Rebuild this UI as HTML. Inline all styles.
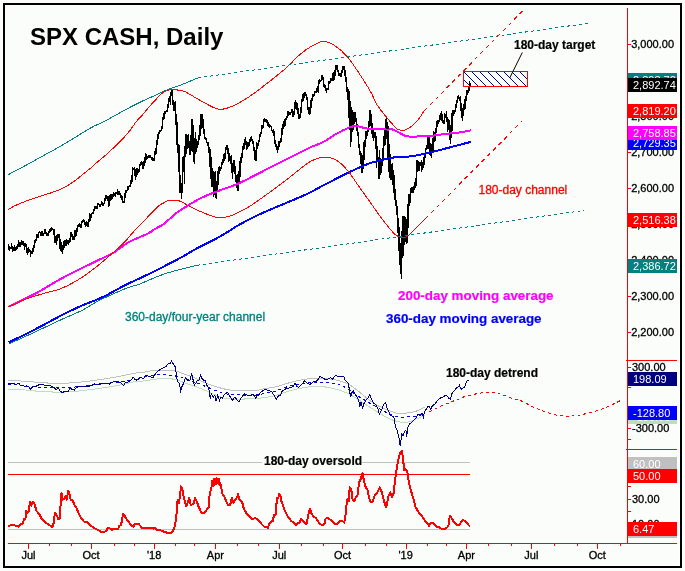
<!DOCTYPE html>
<html><head><meta charset="utf-8"><title>SPX CASH, Daily</title>
<style>
html,body{margin:0;padding:0;background:#fafdf9;}
svg{display:block;}
svg text{font-family:"Liberation Sans", Arial, sans-serif;}
</style></head><body>
<svg width="685" height="571" viewBox="0 0 685 571" font-family='"Liberation Sans", Arial, sans-serif'>
<rect x="0" y="0" width="685" height="571" fill="#fafdf9"/>
<rect x="2.5" y="2.5" width="680" height="566" fill="none" stroke="#ffffff" stroke-width="1"/>
<rect x="5.5" y="5.5" width="674" height="560" fill="none" stroke="#ffffff" stroke-width="1"/>
<rect x="4" y="4" width="677" height="563" fill="none" stroke="#000" stroke-width="2"/>
<path d="M8.5,244.2V250.3M9.5,246.2V251.0M10.5,246.9V248.9M11.5,243.4V249.2M12.5,246.0V252.2M13.5,247.4V250.8M14.5,245.2V251.1M15.5,247.2V251.0M16.5,246.4V250.2M17.5,244.2V249.3M18.5,240.0V246.9M19.5,242.1V246.6M20.5,242.1V246.7M21.5,240.3V244.5M22.5,240.6V244.5M23.5,240.9V245.7M24.5,242.7V250.0M25.5,243.1V247.4M26.5,243.9V252.9M27.5,248.3V255.2M28.5,247.4V253.2M29.5,248.6V252.2M30.5,249.9V257.4M31.5,250.5V253.9M32.5,248.0V254.4M33.5,244.8V252.4M34.5,240.1V248.1M35.5,239.2V243.1M36.5,233.5V241.4M37.5,234.2V237.6M38.5,231.7V237.5M39.5,231.4V233.4M40.5,231.9V235.9M41.5,231.0V235.8M42.5,231.1V236.1M43.5,232.6V236.4M44.5,229.2V233.6M45.5,229.2V234.3M46.5,232.3V235.9M47.5,233.4V236.4M48.5,230.9V236.3M49.5,229.1V232.8M50.5,228.1V231.5M51.5,227.1V231.0M52.5,227.5V230.3M53.5,229.4V234.7M54.5,229.0V242.7M55.5,235.6V242.6M56.5,234.7V244.6M57.5,233.7V240.7M58.5,233.5V237.7M59.5,233.5V248.9M60.5,239.2V250.7M61.5,242.1V251.9M62.5,245.3V253.9M63.5,241.4V249.9M64.5,239.7V248.0M65.5,239.7V246.1M66.5,238.8V245.7M67.5,240.4V243.8M68.5,240.0V244.6M69.5,238.2V242.5M70.5,231.6V241.6M71.5,231.6V237.1M72.5,233.9V239.6M73.5,236.4V240.0M74.5,230.0V240.3M75.5,229.9V237.2M76.5,228.3V235.9M77.5,224.5V231.7M78.5,223.7V227.4M79.5,223.4V227.0M80.5,223.7V227.6M81.5,221.2V227.6M82.5,219.5V223.4M83.5,219.1V221.9M84.5,219.9V224.6M85.5,222.2V226.7M86.5,221.3V226.2M87.5,221.6V227.0M88.5,218.7V227.0M89.5,212.8V221.8M90.5,214.0V220.6M91.5,212.8V218.4M92.5,211.6V214.4M93.5,208.7V213.8M94.5,205.7V210.6M95.5,206.2V208.5M96.5,206.3V209.0M97.5,203.3V208.9M98.5,203.2V205.1M99.5,203.6V206.9M100.5,204.1V207.3M101.5,200.8V205.2M102.5,201.5V206.1M103.5,203.0V206.1M104.5,197.7V203.9M105.5,195.1V200.9M106.5,195.1V199.4M107.5,195.5V201.3M108.5,196.2V206.7M109.5,195.1V205.5M110.5,194.1V201.2M111.5,194.4V200.1M112.5,194.2V199.4M113.5,191.6V196.9M114.5,192.5V196.3M115.5,191.7V197.0M116.5,191.5V194.1M117.5,189.2V195.2M118.5,190.9V194.6M119.5,191.0V194.8M120.5,193.4V198.3M121.5,194.8V199.8M122.5,195.9V203.1M123.5,201.1V203.3M124.5,193.4V203.4M125.5,190.1V197.8M126.5,189.7V192.6M127.5,186.3V191.4M128.5,185.7V190.3M129.5,184.7V187.2M130.5,180.2V187.4M131.5,174.9V183.7M132.5,167.3V181.9M133.5,167.5V170.3M134.5,167.3V175.7M135.5,169.1V179.8M136.5,167.7V177.0M137.5,167.8V174.9M138.5,168.6V173.2M139.5,163.7V171.6M140.5,162.3V166.4M141.5,160.9V165.2M142.5,162.3V168.6M143.5,160.9V168.7M144.5,157.1V166.1M145.5,152.7V162.5M146.5,153.9V159.5M147.5,155.5V158.8M148.5,154.8V158.2M149.5,154.8V158.0M150.5,154.5V158.4M151.5,156.8V160.0M152.5,157.2V160.6M153.5,158.3V160.6M154.5,150.9V160.6M155.5,148.4V155.4M156.5,140.3V153.6M157.5,134.1V145.4M158.5,131.8V138.7M159.5,129.7V133.6M160.5,129.6V132.2M161.5,125.8V131.3M162.5,116.8V129.0M163.5,113.0V119.5M164.5,111.4V118.6M165.5,111.0V114.2M166.5,110.3V111.7M167.5,104.3V112.3M168.5,98.0V107.9M169.5,96.3V101.7M170.5,92.0V104.6M171.5,89.3V95.9M172.5,90.1V105.2M173.5,99.6V110.8M174.5,101.9V111.1M175.5,101.4V125.2M176.5,114.3V144.7M177.5,122.3V152.5M178.5,143.9V171.7M179.5,144.9V192.9M180.5,175.0V193.1M181.5,182.7V198.8M182.5,157.0V192.5M183.5,155.8V171.8M184.5,146.1V184.2M185.5,134.4V156.6M186.5,134.4V154.0M187.5,134.5V149.2M188.5,134.0V147.6M189.5,140.5V155.1M190.5,134.8V155.1M191.5,119.0V150.9M192.5,119.0V151.8M193.5,124.6V162.2M194.5,138.3V164.1M195.5,131.8V154.3M196.5,138.6V151.8M197.5,140.8V147.8M198.5,135.1V144.6M199.5,124.9V139.8M200.5,113.7V136.3M201.5,113.7V128.7M202.5,113.7V128.0M203.5,119.0V134.2M204.5,129.3V139.0M205.5,136.6V139.5M206.5,137.5V143.2M207.5,141.9V146.3M208.5,142.1V153.1M209.5,147.0V167.2M210.5,148.9V179.0M211.5,157.0V186.6M212.5,168.3V187.4M213.5,170.5V196.6M214.5,172.1V195.2M215.5,170.7V197.6M216.5,181.0V198.8M217.5,170.5V190.2M218.5,167.4V184.8M219.5,166.1V173.7M220.5,166.8V170.8M221.5,162.1V168.8M222.5,159.3V165.2M223.5,154.3V162.9M224.5,153.3V160.9M225.5,147.1V159.2M226.5,144.7V150.1M227.5,144.9V153.6M228.5,147.9V162.3M229.5,153.4V161.3M230.5,156.3V164.1M231.5,154.5V173.0M232.5,163.1V178.7M233.5,160.4V172.3M234.5,160.4V173.7M235.5,166.2V181.6M236.5,174.8V187.8M237.5,173.6V191.3M238.5,171.1V191.3M239.5,160.6V182.1M240.5,157.4V177.4M241.5,152.6V163.2M242.5,145.6V158.4M243.5,143.0V150.3M244.5,138.8V149.2M245.5,136.8V145.0M246.5,141.2V149.8M247.5,142.3V149.2M248.5,142.4V146.6M249.5,139.3V145.5M250.5,136.9V141.7M251.5,136.2V141.1M252.5,138.6V144.1M253.5,140.9V150.7M254.5,146.8V159.5M255.5,149.6V160.7M256.5,141.5V160.7M257.5,143.2V148.8M258.5,139.9V145.6M259.5,133.5V141.7M260.5,131.9V137.4M261.5,125.2V133.8M262.5,124.6V129.0M263.5,119.3V128.1M264.5,118.0V122.1M265.5,118.5V122.0M266.5,119.3V122.9M267.5,119.7V126.2M268.5,122.3V126.7M269.5,123.5V127.8M270.5,125.3V127.1M271.5,125.6V131.0M272.5,129.8V132.5M273.5,128.5V136.1M274.5,130.8V143.6M275.5,139.8V147.4M276.5,144.0V149.9M277.5,146.4V152.9M278.5,140.6V150.2M279.5,140.8V147.4M280.5,137.9V143.3M281.5,127.5V142.0M282.5,124.3V134.6M283.5,120.5V128.6M284.5,119.4V127.1M285.5,117.6V126.0M286.5,116.3V120.4M287.5,111.1V118.2M288.5,111.2V115.8M289.5,112.1V115.0M290.5,111.7V115.2M291.5,109.4V113.3M292.5,108.9V117.3M293.5,111.0V117.3M294.5,101.6V115.1M295.5,100.3V109.2M296.5,101.7V110.0M297.5,103.1V113.7M298.5,108.4V118.7M299.5,114.4V118.7M300.5,107.1V118.4M301.5,98.7V112.5M302.5,94.3V102.0M303.5,93.0V100.7M304.5,91.8V97.7M305.5,91.8V96.4M306.5,93.8V100.4M307.5,96.5V110.0M308.5,107.0V113.5M309.5,106.9V114.8M310.5,99.8V114.4M311.5,97.6V108.4M312.5,94.4V101.1M313.5,93.8V96.9M314.5,91.1V96.2M315.5,90.7V93.3M316.5,88.2V92.8M317.5,85.7V92.4M318.5,80.0V92.6M319.5,78.8V84.4M320.5,79.5V82.3M321.5,75.0V81.2M322.5,74.7V80.3M323.5,76.9V86.9M324.5,84.1V88.2M325.5,84.7V91.4M326.5,88.1V92.5M327.5,88.1V90.0M328.5,81.2V89.9M329.5,80.9V83.8M330.5,77.5V82.8M331.5,77.7V80.8M332.5,72.7V80.5M333.5,71.9V80.7M334.5,70.0V79.5M335.5,64.9V75.6M336.5,64.8V70.3M337.5,65.4V72.1M338.5,69.9V76.0M339.5,72.7V76.1M340.5,73.1V76.8M341.5,70.1V76.5M342.5,66.0V72.5M343.5,66.0V69.8M344.5,66.0V76.0M345.5,69.8V82.1M346.5,77.2V91.8M347.5,86.7V100.2M348.5,89.3V118.0M349.5,91.4V130.0M350.5,101.2V147.4M351.5,106.8V142.4M352.5,109.9V131.6M353.5,112.0V129.8M354.5,112.0V124.4M355.5,112.0V121.8M356.5,117.8V130.7M357.5,124.2V135.9M358.5,131.8V147.9M359.5,143.9V155.3M360.5,151.4V163.8M361.5,153.1V172.6M362.5,155.1V172.6M363.5,142.4V168.9M364.5,139.7V159.9M365.5,131.0V146.8M366.5,131.3V139.3M367.5,127.8V136.4M368.5,121.0V131.9M369.5,109.8V126.8M370.5,110.2V126.2M371.5,114.1V133.8M372.5,122.7V138.0M373.5,129.3V140.9M374.5,132.4V138.4M375.5,131.7V149.4M376.5,135.6V168.4M377.5,146.3V161.6M378.5,156.9V179.0M379.5,149.7V179.0M380.5,157.8V174.7M381.5,160.2V172.7M382.5,148.1V166.4M383.5,136.3V159.7M384.5,129.8V146.3M385.5,119.1V144.7M386.5,116.1V139.4M387.5,122.2V158.8M388.5,125.7V172.0M389.5,144.1V177.5M390.5,153.5V179.9M391.5,164.1V180.4M392.5,163.4V185.2M393.5,169.9V193.4M394.5,174.5V200.4M395.5,188.8V206.4M396.5,199.8V215.2M397.5,206.1V232.9M398.5,218.2V250.5M399.5,227.0V265.2M400.5,242.6V273.9M401.5,231.2V279.3M402.5,215.5V258.3M403.5,215.5V255.9M404.5,215.5V244.5M405.5,217.2V241.5M406.5,219.0V244.3M407.5,203.5V242.6M408.5,194.1V227.9M409.5,193.7V205.5M410.5,187.5V203.4M411.5,186.7V193.3M412.5,187.2V192.8M413.5,185.8V192.6M414.5,181.5V190.4M415.5,177.6V187.7M416.5,159.5V186.3M417.5,160.3V171.6M418.5,161.2V170.7M419.5,162.2V171.3M420.5,162.1V166.1M421.5,160.4V172.0M422.5,161.8V170.2M423.5,157.3V168.0M424.5,154.6V164.8M425.5,147.7V157.8M426.5,145.3V150.4M427.5,136.6V149.3M428.5,136.6V148.5M429.5,137.4V154.8M430.5,143.2V156.1M431.5,143.8V158.1M432.5,137.7V151.8M433.5,131.3V150.8M434.5,132.4V142.3M435.5,127.9V141.3M436.5,120.9V133.2M437.5,119.6V127.3M438.5,119.9V124.3M439.5,115.1V122.3M440.5,113.4V119.8M441.5,111.0V121.0M442.5,114.0V123.3M443.5,119.8V123.9M444.5,113.2V123.9M445.5,113.5V117.7M446.5,111.2V121.9M447.5,116.6V131.6M448.5,119.1V130.0M449.5,120.2V139.7M450.5,124.6V143.5M451.5,113.0V137.9M452.5,110.3V131.4M453.5,110.2V116.4M454.5,109.9V113.9M455.5,103.6V111.7M456.5,99.9V107.9M457.5,95.9V102.6M458.5,94.7V99.0M459.5,97.0V100.5M460.5,96.4V110.5M461.5,103.1V118.1M462.5,107.6V121.4M463.5,104.3V116.1M464.5,99.2V110.3M465.5,96.4V109.0M466.5,90.4V100.9M467.5,90.0V95.2M468.5,86.2V92.7M469.5,81.4V91.3M470.5,82.6V85.7" fill="none" stroke="#000" stroke-width="1" shape-rendering="crispEdges"/>
<path d="M8.4,306.9 C12.8,304.7 26.4,298.4 35.0,293.8 C43.6,289.2 52.9,283.2 60.0,279.3 C67.1,275.4 71.7,273.1 77.5,270.2 C83.3,267.3 89.2,264.6 95.0,261.8 C100.8,259.0 108.8,255.2 112.6,253.2 C116.4,251.2 115.1,251.5 117.9,249.6 C120.7,247.7 126.0,243.7 129.5,241.7 C133.0,239.7 135.9,238.8 139.1,237.4 C142.3,236.0 146.0,234.6 148.7,233.1 C151.4,231.6 153.1,230.1 155.5,228.7 C157.9,227.2 161.0,225.9 163.2,224.4 C165.4,222.9 166.9,221.3 168.9,219.6 C170.9,217.9 172.7,215.8 175.0,214.0 C177.3,212.2 179.3,210.8 183.0,208.5 C186.7,206.2 193.4,202.2 197.3,200.0 C201.2,197.8 202.8,197.2 206.7,195.5 C210.6,193.8 215.4,192.1 220.9,190.0 C226.4,187.9 231.6,186.7 239.8,182.9 C248.0,179.2 260.0,172.6 270.0,167.5 C280.0,162.4 293.3,155.8 300.0,152.5 C306.7,149.2 306.1,149.3 310.0,147.5 C313.9,145.7 319.4,144.0 323.6,141.8 C327.8,139.7 330.6,137.0 335.0,134.6 C339.4,132.2 346.0,128.7 349.7,127.3 C353.4,125.9 354.1,125.9 357.0,126.1 C359.9,126.3 361.9,127.9 366.8,128.5 C371.7,129.1 382.0,129.3 386.4,129.5 C390.8,129.7 390.9,129.1 393.0,129.6 C395.1,130.1 396.7,131.4 399.0,132.5 C401.3,133.6 403.3,135.7 406.8,136.3 C410.3,137.0 416.0,136.5 420.0,136.4 C424.0,136.3 427.7,136.3 431.0,136.0 C434.3,135.7 435.2,135.2 440.0,134.6 C444.8,134.0 454.8,133.1 460.0,132.4 C465.2,131.7 469.2,130.7 471.0,130.3" fill="none" stroke="#ff00ff" stroke-width="2" stroke-linejoin="round" shape-rendering="crispEdges"/>
<path d="M8.8,342.4 C13.2,340.2 26.5,333.8 35.0,329.4 C43.5,325.0 53.9,319.3 60.0,316.1 C66.1,312.9 67.8,312.2 71.7,310.3 C75.6,308.4 79.5,306.6 83.4,305.0 C87.3,303.4 91.1,302.0 95.0,300.4 C98.9,298.8 102.8,297.1 106.7,295.1 C110.6,293.2 114.5,290.8 118.4,288.7 C122.3,286.6 126.5,284.6 130.1,282.8 C133.7,281.1 136.0,280.1 140.0,278.2 C144.0,276.3 149.3,273.8 154.0,271.5 C158.7,269.2 163.4,266.7 168.2,264.2 C173.0,261.7 178.3,259.1 183.0,256.5 C187.7,253.9 190.0,252.1 196.2,248.8 C202.4,245.5 212.7,240.6 220.0,236.5 C227.3,232.4 232.8,228.3 240.0,224.3 C247.2,220.3 252.9,217.3 263.5,212.5 C274.1,207.7 293.7,200.0 303.7,195.5 C313.7,191.0 316.3,189.0 323.6,185.3 C330.9,181.6 339.4,176.8 347.3,173.1 C355.2,169.4 363.0,165.5 370.9,162.9 C378.8,160.3 387.9,158.4 394.6,157.3 C401.3,156.2 405.2,157.1 411.1,156.3 C417.0,155.5 421.9,154.4 430.0,152.5 C438.1,150.6 453.2,146.5 460.0,144.7 C466.8,142.9 469.2,142.4 471.0,141.9" fill="none" stroke="#0000ff" stroke-width="2" stroke-linejoin="round" shape-rendering="crispEdges"/>
<path d="M8.3,209.5 C9.7,208.7 12.4,206.7 16.6,204.9 C20.8,203.1 27.7,200.4 33.3,198.5 C38.8,196.6 45.8,194.6 49.9,193.2 C54.0,191.8 55.4,191.4 58.2,190.2 C61.0,189.0 63.8,187.8 66.6,186.2 C69.4,184.6 72.1,182.7 74.9,180.7 C77.7,178.7 80.4,176.3 83.2,174.1 C86.0,171.9 89.5,169.1 91.5,167.4 C93.5,165.7 92.2,166.5 95.0,164.1 C97.8,161.7 103.6,157.0 108.0,153.0 C112.4,149.0 117.9,143.6 121.5,140.0 C125.1,136.4 127.0,134.2 129.4,131.2 C131.8,128.2 133.8,124.7 136.0,122.0 C138.2,119.3 140.4,117.3 142.6,114.8 C144.8,112.3 146.9,109.4 149.1,106.9 C151.3,104.4 153.5,102.0 155.7,99.7 C157.9,97.4 160.1,94.7 162.3,93.1 C164.5,91.5 166.8,90.5 168.8,89.9 C170.8,89.3 172.2,89.4 174.1,89.5 C176.0,89.6 178.1,90.1 180.0,90.5 C181.9,90.9 181.8,90.1 185.5,91.9 C189.2,93.7 196.5,98.5 202.0,101.4 C207.5,104.3 213.5,108.4 218.6,109.2 C223.7,110.0 227.6,108.2 232.7,106.1 C237.8,104.0 243.4,100.5 249.3,96.6 C255.2,92.7 261.9,87.4 268.2,82.5 C274.5,77.6 281.8,71.8 287.1,67.1 C292.4,62.4 295.9,57.9 300.0,54.4 C304.1,50.9 307.9,48.3 311.8,46.1 C315.7,43.9 319.7,41.4 323.6,41.4 C327.6,41.4 331.6,43.5 335.5,46.1 C339.4,48.7 343.4,52.2 347.3,56.7 C351.2,61.2 355.2,67.4 359.1,73.3 C363.0,79.2 368.1,87.2 370.9,92.2 C373.7,97.2 374.6,100.4 376.1,103.2 C377.7,106.0 378.5,107.0 380.2,109.3 C381.9,111.6 384.4,114.7 386.3,117.0 C388.2,119.3 389.8,121.1 391.5,123.1 C393.2,125.0 395.1,127.5 396.6,128.7 C398.1,129.9 399.2,130.1 400.7,130.3 C402.2,130.5 404.1,130.3 405.8,129.7 C407.5,129.1 409.2,128.0 410.9,126.7 C412.6,125.4 414.5,123.7 416.0,122.1 C417.5,120.5 418.7,118.9 420.1,117.0 C421.5,115.1 423.5,111.8 424.2,110.8" fill="none" stroke="#ff0000" stroke-width="1" shape-rendering="crispEdges"/>
<polyline points="424.2,110.8 523.6,10.0" fill="none" stroke="#ff0000" stroke-width="1" stroke-dasharray="4,4" shape-rendering="crispEdges"/>
<path d="M8.4,306.9 C11.4,305.6 20.4,301.2 26.3,299.0 C32.2,296.8 38.2,295.1 43.8,293.4 C49.4,291.7 54.4,291.2 60.0,289.0 C65.6,286.8 71.7,283.7 77.5,280.2 C83.3,276.7 89.2,272.5 95.0,268.0 C100.8,263.5 108.9,256.2 112.6,253.1 C116.2,250.0 114.6,251.6 116.9,249.4 C119.2,247.2 124.0,242.5 126.6,239.8 C129.2,237.1 129.4,236.2 132.3,233.1 C135.2,230.0 139.7,225.3 143.9,221.0 C148.1,216.7 154.2,210.0 157.4,207.0 C160.6,204.0 161.4,204.3 163.2,203.2 C165.0,202.1 166.0,201.0 168.0,200.5 C170.0,200.0 173.0,200.2 175.0,200.3 C177.0,200.4 176.3,199.6 180.0,201.2 C183.7,202.8 191.3,207.4 197.3,210.1 C203.3,212.8 210.7,216.2 216.2,217.2 C221.7,218.2 224.9,217.8 230.4,216.0 C235.9,214.2 243.4,210.0 249.3,206.5 C255.2,203.0 261.9,197.8 265.8,195.0 C269.7,192.2 268.9,193.0 272.9,190.0 C276.9,187.0 285.5,180.5 290.0,177.0 C294.5,173.5 296.4,171.7 300.0,169.0 C303.6,166.3 307.9,162.7 311.8,160.7 C315.7,158.7 319.7,157.4 323.6,157.2 C327.6,157.0 331.6,157.4 335.5,159.6 C339.4,161.8 343.4,165.7 347.3,170.2 C351.2,174.7 355.2,181.2 359.1,186.7 C363.0,192.2 367.0,197.8 370.9,203.3 C374.8,208.8 378.8,214.7 382.7,219.8 C386.6,224.9 391.4,231.0 394.6,234.0 C397.8,237.0 399.4,237.4 401.7,237.6 C404.0,237.8 405.2,238.0 408.7,235.2 C412.2,232.4 420.1,223.8 422.9,221.0 C425.7,218.2 424.9,219.1 425.3,218.7" fill="none" stroke="#ff0000" stroke-width="1" shape-rendering="crispEdges"/>
<polyline points="425.3,218.7 522.3,120.9" fill="none" stroke="#ff0000" stroke-width="1" stroke-dasharray="4,4" shape-rendering="crispEdges"/>
<path d="M8.3,174.6 C11.1,173.1 19.4,168.8 25.0,165.8 C30.6,162.8 36.1,159.7 41.6,156.6 C47.1,153.5 52.7,150.7 58.2,147.5 C63.8,144.3 69.4,140.8 74.9,137.5 C80.5,134.2 86.8,130.1 91.5,127.5 C96.2,124.9 99.0,124.1 103.1,122.0 C107.2,119.9 111.9,117.2 116.3,114.8 C120.7,112.4 125.0,109.9 129.4,107.6 C133.8,105.3 138.2,103.1 142.6,101.0 C147.0,98.9 151.8,96.9 155.7,95.1 C159.6,93.3 162.1,91.8 166.2,90.2 C170.2,88.6 174.6,87.4 180.0,85.3 C185.4,83.2 195.4,79.0 198.5,77.7" fill="none" stroke="#008080" stroke-width="1" shape-rendering="crispEdges"/>
<polyline points="198.5,77.7 589.3,23.1" fill="none" stroke="#008080" stroke-width="1" stroke-dasharray="3,3" shape-rendering="crispEdges"/>
<path d="M8.4,344.2 C12.8,342.2 26.4,336.0 35.0,332.0 C43.6,328.0 53.9,323.0 60.0,320.2 C66.1,317.4 67.8,316.8 71.7,315.0 C75.6,313.2 79.5,311.8 83.4,309.7 C87.3,307.6 91.1,304.8 95.0,302.7 C98.9,300.6 102.8,298.8 106.7,296.9 C110.6,295.0 114.5,293.3 118.4,291.6 C122.3,289.9 126.5,288.2 130.1,286.9 C133.7,285.6 136.7,285.2 140.0,284.0 C143.3,282.8 145.8,281.3 150.0,279.6 C154.2,277.9 160.1,275.4 165.1,273.7 C170.1,272.0 174.6,270.9 180.0,269.5 C185.4,268.1 194.4,265.9 197.3,265.2" fill="none" stroke="#008080" stroke-width="1" shape-rendering="crispEdges"/>
<polyline points="197.3,265.2 584.0,210.4" fill="none" stroke="#008080" stroke-width="1" stroke-dasharray="3,3" shape-rendering="crispEdges"/>
<defs><pattern id="hatch" patternUnits="userSpaceOnUse" width="8" height="8" patternTransform="translate(464,72)"><path d="M-1,-1 L9,9 M-9,-1 L1,9 M7,-1 L17,9" stroke="#000080" stroke-width="1"/></pattern></defs>
<rect x="463.5" y="71.5" width="64" height="15" fill="url(#hatch)" stroke="#ff0000" stroke-width="1" shape-rendering="crispEdges"/>
<line x1="509.7" y1="78" x2="522.3" y2="52.5" stroke="#000" stroke-width="1"/>
<path d="M8.1,380.3 C10.6,380.4 18.1,380.8 22.9,381.1 C27.7,381.4 31.3,381.8 36.7,382.2 C42.1,382.6 49.4,383.3 55.1,383.4 C60.8,383.5 65.7,383.2 70.9,382.9 C76.1,382.6 81.1,382.0 86.4,381.4 C91.7,380.8 97.3,380.0 102.8,379.2 C108.3,378.4 113.8,377.4 119.3,376.4 C124.8,375.4 131.4,373.8 135.7,373.1 C140.0,372.4 142.1,372.4 145.0,372.0 C147.9,371.6 148.4,370.8 153.1,370.6 C157.8,370.4 168.6,370.2 173.3,370.6 C178.0,371.0 178.6,372.2 181.2,373.0 C183.8,373.8 186.7,374.8 189.0,375.6 C191.3,376.5 192.1,376.8 195.0,378.1 C197.9,379.4 202.8,381.8 206.7,383.4 C210.6,384.9 214.1,386.2 218.4,387.4 C222.7,388.6 226.2,389.9 232.4,390.4 C238.6,390.9 250.2,390.7 255.7,390.4 C261.1,390.1 261.9,389.2 265.1,388.6 C268.3,388.1 272.2,387.7 275.0,387.1 C277.8,386.5 278.6,386.0 281.7,385.1 C284.8,384.2 289.5,382.6 293.4,381.6 C297.3,380.6 301.1,379.9 305.0,379.3 C308.9,378.7 312.8,378.2 316.7,378.1 C320.6,378.0 324.5,378.2 328.4,378.7 C332.3,379.2 336.5,379.9 340.1,381.0 C343.7,382.1 346.9,383.3 350.0,385.1 C353.1,386.9 355.2,388.7 359.0,391.7 C362.8,394.7 368.3,399.9 373.0,402.9 C377.7,405.9 382.8,408.1 387.0,409.9 C391.2,411.6 394.5,412.9 398.2,413.4 C401.9,413.9 406.1,413.2 409.4,412.7 C412.7,412.2 415.3,411.5 417.9,410.6 C420.5,409.7 423.8,407.7 425.0,407.1" fill="none" stroke="#c0c0c0" stroke-width="1" shape-rendering="crispEdges"/>
<path d="M8.1,389.0 C11.0,389.2 20.1,389.6 25.4,390.0 C30.7,390.4 34.6,391.0 39.7,391.4 C44.8,391.8 51.1,392.0 56.1,392.1 C61.1,392.2 65.0,392.1 70.0,391.8 C75.0,391.5 80.9,390.8 86.4,390.1 C91.9,389.5 97.3,388.7 102.8,387.9 C108.3,387.1 114.2,386.2 119.3,385.2 C124.4,384.2 129.2,382.6 133.5,381.9 C137.8,381.2 141.7,381.2 145.0,380.8 C148.3,380.4 149.5,379.9 153.1,379.5 C156.7,379.1 162.4,378.1 166.3,378.2 C170.2,378.3 173.5,379.1 176.8,380.0 C180.2,380.9 183.4,382.4 186.4,383.5 C189.4,384.6 191.6,385.1 195.0,386.3 C198.4,387.6 201.4,389.0 206.7,391.0 C211.9,393.0 218.3,397.2 226.5,398.5 C234.7,399.8 247.6,399.0 255.7,398.5 C263.8,398.0 270.7,396.5 275.0,395.6 C279.3,394.7 278.6,394.3 281.7,393.3 C284.8,392.3 289.5,390.8 293.4,389.8 C297.3,388.8 301.1,388.0 305.0,387.4 C308.9,386.8 312.8,386.3 316.7,386.3 C320.6,386.3 324.5,386.7 328.4,387.4 C332.3,388.1 336.5,389.2 340.1,390.4 C343.7,391.6 346.9,392.9 350.0,394.5 C353.1,396.1 355.2,397.7 359.0,400.1 C362.8,402.6 368.3,406.3 373.0,409.2 C377.7,412.1 382.8,415.5 387.0,417.6 C391.2,419.7 394.5,421.1 398.2,421.8 C401.9,422.5 406.1,422.4 409.4,421.8 C412.7,421.2 415.3,419.4 417.9,418.3 C420.5,417.2 423.8,416.0 425.0,415.5" fill="none" stroke="#c0dcc0" stroke-width="1" shape-rendering="crispEdges"/>
<path d="M8.1,384.0 C12.7,384.5 27.7,386.4 35.7,387.0 C43.7,387.6 50.6,387.4 56.1,387.5 C61.6,387.6 65.2,387.6 68.4,387.5 C71.6,387.4 69.3,387.6 75.0,387.0 C80.7,386.4 95.4,384.8 102.8,383.9 C110.2,383.0 113.8,382.7 119.3,381.9 C124.8,381.1 132.2,380.0 135.7,379.2 C139.1,378.4 136.4,378.1 140.0,377.3 C143.6,376.6 152.1,375.0 157.5,374.7 C162.9,374.4 169.0,375.3 172.4,375.6 C175.8,375.9 175.5,376.1 177.7,376.5 C179.9,376.9 182.4,377.0 185.5,378.2 C188.6,379.4 193.6,382.5 196.0,383.5 C198.4,384.5 197.9,383.4 199.7,384.0 C201.5,384.6 203.6,385.6 206.7,386.9 C209.8,388.1 214.5,390.2 218.4,391.5 C222.3,392.8 225.7,393.9 230.0,394.5 C234.3,395.1 239.7,394.9 244.0,395.0 C248.3,395.1 252.2,395.3 255.7,395.0 C259.2,394.7 261.9,393.9 265.1,393.3 C268.3,392.7 272.2,392.3 275.0,391.5 C277.8,390.7 278.6,389.7 281.7,388.6 C284.8,387.5 289.5,386.0 293.4,385.1 C297.3,384.2 301.1,383.9 305.0,383.4 C308.9,382.9 312.8,382.4 316.7,382.2 C320.6,382.0 324.5,381.9 328.4,382.4 C332.3,382.9 337.0,384.1 340.1,385.1 C343.2,386.1 344.0,386.7 347.1,388.6 C350.2,390.5 354.7,393.9 359.0,396.6 C363.3,399.3 368.3,402.3 373.0,405.0 C377.7,407.7 382.8,410.7 387.0,412.7 C391.2,414.7 394.5,416.2 398.2,416.9 C401.9,417.6 406.1,417.0 409.4,416.9 C412.7,416.8 415.5,416.8 417.9,416.2 C420.2,415.6 422.6,413.9 423.5,413.4" fill="none" stroke="#0000ff" stroke-width="1" stroke-dasharray="3,3" shape-rendering="crispEdges"/>
<polyline points="8.1,383.9 11.1,383.4 14.2,383.9 15.7,384.4 17.3,383.9 18.8,383.4 20.3,385.2 23.4,385.4 24.9,386.7 26.5,385.9 28.5,386.5 30.5,389.0 32.6,387.0 35.7,386.5 37.7,385.4 39.7,384.4 42.8,384.4 45.4,385.9 47.9,385.4 51.0,385.9 53.0,387.0 55.1,388.5 56.1,390.0 58.1,388.0 60.2,391.1 62.2,392.6 64.3,391.6 68.4,391.4 70.0,387.9 72.2,389.6 74.4,390.1 76.0,387.9 78.8,386.3 80.9,386.5 83.7,386.8 86.4,386.8 89.2,386.1 91.9,385.2 94.1,383.9 96.3,384.1 98.5,384.1 100.7,383.9 102.8,383.5 105.0,383.0 107.2,383.5 109.4,384.1 111.6,382.4 113.8,381.9 116.0,381.4 118.2,381.9 120.4,382.4 122.6,384.6 123.7,385.7 124.7,383.0 126.9,382.4 129.1,381.4 131.3,379.7 133.0,377.5 134.6,378.6 136.8,380.3 139.0,378.6 141.2,377.5 143.5,378.5 145.7,375.3 149.0,376.5 153.1,377.6 155.8,373.4 157.5,371.2 161.0,369.0 162.8,368.1 166.3,366.4 168.0,363.8 170.6,363.3 171.3,360.7 172.8,363.3 175.0,366.4 175.9,370.8 176.8,378.6 177.7,381.3 179.0,383.0 180.3,388.3 180.7,392.7 181.2,388.3 182.9,384.8 185.5,378.2 187.7,380.4 189.9,380.4 191.7,373.4 192.5,377.3 194.3,385.2 196.0,383.0 197.3,380.4 199.1,379.9 200.6,375.2 202.0,378.7 203.8,380.4 205.5,381.0 206.7,385.1 208.4,388.0 209.6,392.7 210.2,398.5 211.4,393.9 213.1,397.4 214.9,395.0 216.0,400.9 217.8,395.0 219.5,400.3 220.7,397.4 222.4,398.0 224.2,395.0 225.9,393.3 227.1,392.1 228.9,394.5 230.6,397.4 232.4,400.3 234.7,397.4 237.0,399.7 238.8,402.0 240.5,399.1 242.9,395.6 244.6,393.9 247.0,395.0 249.3,395.6 251.1,395.0 253.4,394.5 255.7,398.5 256.9,395.6 258.6,395.0 260.4,392.7 262.7,390.9 265.1,389.2 267.4,390.4 269.7,390.9 271.8,391.5 272.9,393.9 274.7,396.2 276.4,399.1 278.2,396.2 280.5,395.0 282.3,390.9 284.0,389.8 286.4,388.6 288.7,388.0 291.0,387.4 293.4,386.3 295.1,383.4 296.9,386.3 298.6,387.4 301.5,384.5 304.5,381.0 307.4,383.4 309.7,384.5 312.0,382.8 314.4,381.0 316.7,381.0 318.5,378.7 320.2,376.4 323.1,378.1 326.1,379.9 328.4,378.7 330.7,377.5 332.5,379.3 335.4,375.2 337.7,376.4 340.1,376.9 343.6,376.4 345.3,380.4 346.4,381.2 347.8,382.6 349.2,388.2 350.6,397.3 352.0,392.4 353.4,391.0 354.8,393.8 356.2,395.9 357.6,398.0 359.0,402.2 359.7,407.1 361.1,402.2 362.5,408.5 363.9,403.6 366.0,400.1 368.1,398.0 369.9,394.5 371.6,399.4 373.7,403.6 375.8,404.3 377.9,408.5 379.3,414.1 381.4,410.6 383.5,404.3 385.6,402.2 387.0,407.8 388.4,410.6 389.8,414.8 392.6,416.2 394.0,417.6 395.4,426.0 397.5,431.6 398.9,437.3 400.3,446.4 401.7,434.4 403.1,435.8 404.5,431.6 405.9,430.2 406.6,436.5 408.0,427.4 409.4,423.9 411.5,422.5 413.7,420.4 415.8,418.3 417.9,414.8 420.0,414.8 421.9,413.2 423.4,417.0 424.3,412.7 425.8,409.8 427.7,406.9 429.2,406.4 430.6,409.3 432.0,406.4 434.0,404.5 435.4,403.5 436.9,401.1 438.3,399.7 440.2,398.2 443.1,396.8 445.5,395.3 447.5,396.3 448.9,398.2 450.3,399.2 451.8,393.9 453.2,391.5 455.2,389.6 456.6,387.6 458.5,386.7 459.5,384.7 460.5,388.6 461.4,389.1 462.9,388.1 464.3,387.6 465.8,383.8 467.2,380.9 468.7,380.2" fill="none" stroke="#000080" stroke-width="1" shape-rendering="crispEdges"/>
<path d="M429.2,411.7 C430.2,411.2 433.4,409.8 435.4,408.8 C437.4,407.8 439.2,406.8 441.2,405.9 C443.2,405.0 445.5,404.3 447.5,403.5 C449.5,402.7 451.2,401.9 453.2,401.1 C455.2,400.3 457.5,399.5 459.5,398.7 C461.5,397.9 463.6,396.9 465.3,396.3 C467.1,395.7 467.7,395.7 470.0,395.2 C472.3,394.7 476.2,393.8 479.3,393.3 C482.4,392.8 485.2,392.3 488.7,392.4 C492.2,392.5 496.9,393.1 500.4,394.0 C503.9,394.9 506.2,396.3 509.7,397.5 C513.2,398.7 517.5,399.4 521.4,401.0 C525.3,402.6 529.2,405.1 533.1,406.9 C537.0,408.6 540.8,410.1 544.7,411.5 C548.6,412.9 552.5,414.2 556.4,415.0 C560.3,415.8 564.2,416.2 568.1,416.2 C572.0,416.2 575.9,415.7 579.8,415.0 C583.7,414.3 587.6,413.3 591.5,412.2 C595.4,411.1 599.2,410.0 603.1,408.5 C607.0,407.0 611.5,404.9 614.8,403.4 C618.1,401.8 621.6,399.9 623.0,399.2" fill="none" stroke="#ff0000" stroke-width="1" stroke-dasharray="3,3" shape-rendering="crispEdges"/>
<line x1="8" y1="462.5" x2="470" y2="462.5" stroke="#c0c0c0" stroke-width="1"/>
<line x1="8" y1="474.5" x2="470" y2="474.5" stroke="#ff0000" stroke-width="1.2"/>
<line x1="8" y1="529.5" x2="470" y2="529.5" stroke="#c0c0c0" stroke-width="1"/>
<polyline points="8.3,526.2 11.6,524.7 14.2,525.3 17.5,526.0 18.8,526.6 20.1,524.7 22.7,523.4 24.1,518.8 25.4,519.4 26.0,510.9 27.3,513.5 28.6,511.5 30.0,501.7 31.3,505.6 32.6,501.7 33.9,502.3 35.2,506.3 36.5,510.9 39.2,514.2 41.8,518.8 44.4,521.8 47.0,523.4 49.7,525.3 52.3,527.0 53.6,523.4 54.9,512.8 56.9,515.5 58.2,518.8 59.5,519.4 60.2,510.2 61.5,493.1 62.8,499.7 64.1,499.1 65.4,496.4 66.8,499.7 68.1,491.2 69.4,493.1 70.7,499.7 72.7,500.4 74.6,505.0 76.6,508.2 78.6,513.5 81.2,518.1 83.8,521.4 87.1,522.0 89.7,524.7 92.6,526.9 95.3,528.6 97.9,529.9 101.2,531.8 104.5,531.8 106.4,530.8 107.7,527.8 109.7,528.2 111.7,529.9 113.7,528.9 116.3,528.6 118.2,529.5 118.9,526.2 120.9,524.9 122.2,519.7 122.8,513.8 124.2,515.1 125.5,517.7 127.4,520.3 129.4,523.0 132.0,525.6 133.4,526.9 134.7,524.3 136.6,523.6 138.6,523.9 140.6,526.2 142.6,528.2 146.5,527.8 150.4,527.8 153.1,528.6 155.0,528.2 157.0,530.2 160.9,530.4 164.2,531.8 167.5,532.8 170.8,532.8 172.8,531.5 174.7,526.2 176.1,518.4 177.0,508.1 177.6,499.6 178.9,502.8 180.3,493.7 180.9,486.4 182.2,488.4 183.5,496.3 184.9,501.5 186.2,506.1 188.1,501.5 189.2,498.2 190.8,504.8 193.4,504.2 195.0,498.2 196.7,501.5 198.7,506.8 201.3,512.7 204.6,512.7 207.2,508.8 208.9,506.8 209.4,496.3 210.5,491.0 211.5,487.0 212.2,480.5 212.9,486.0 213.6,479.5 214.3,485.0 215.0,479.0 215.7,484.0 216.4,478.5 217.1,483.5 217.8,478.5 218.5,484.0 219.2,479.0 219.9,485.0 220.7,484.5 222.3,493.7 224.3,496.3 226.2,501.5 228.2,505.5 230.2,504.8 231.8,497.6 233.5,502.8 235.4,499.6 236.8,497.6 238.1,494.3 239.4,499.6 242.0,501.5 244.0,509.4 246.6,513.4 249.9,516.6 252.5,519.3 255.1,518.0 257.8,519.3 260.4,522.6 262.0,524.5 263.9,526.5 265.9,526.9 267.9,527.8 269.5,523.2 271.2,521.9 273.1,520.6 273.8,515.3 275.5,514.7 276.4,505.5 276.8,498.2 278.4,497.6 279.1,493.7 280.4,495.0 281.0,500.2 283.0,505.5 284.3,509.4 286.3,513.4 288.2,517.3 291.5,521.2 294.2,523.2 296.1,525.2 298.1,523.2 299.4,522.6 301.0,519.3 302.7,520.6 304.7,523.2 306.6,523.9 308.0,516.0 309.9,508.8 311.2,512.7 312.6,515.3 313.9,516.6 315.8,518.0 317.8,521.2 319.8,523.9 322.4,525.2 324.4,523.9 325.7,518.6 327.7,518.0 329.6,519.3 331.6,520.6 333.6,522.6 335.5,524.5 337.5,523.9 340.1,521.2 342.1,520.6 344.1,522.6 345.4,516.6 346.1,508.1 347.4,498.9 348.7,501.5 349.7,487.4 351.3,489.9 352.5,499.1 354.1,501.6 355.8,497.4 357.5,494.9 359.1,482.4 360.8,479.1 362.5,473.3 364.1,481.6 365.8,487.4 367.5,489.9 370.0,501.6 372.4,502.4 374.9,494.9 377.4,492.4 379.9,487.4 381.6,491.6 384.1,501.6 386.3,507.4 388.3,496.6 390.2,492.4 391.9,497.4 393.6,493.2 394.9,481.6 396.6,469.1 398.2,460.0 399.9,453.3 401.6,450.8 402.9,456.6 404.1,469.9 405.7,469.1 407.4,472.4 409.0,483.3 410.7,489.9 413.2,498.2 415.7,507.4 418.2,511.5 421.5,515.7 424.9,520.7 426.6,522.3 429.0,525.9 430.6,522.7 432.2,522.7 434.6,524.7 437.0,526.7 439.5,527.1 441.1,528.7 445.1,528.7 447.5,527.1 448.7,524.7 449.1,520.7 449.9,515.9 451.1,517.1 453.1,520.7 455.5,523.9 457.9,525.5 459.5,525.1 461.1,521.9 462.8,519.5 465.2,521.5 467.6,523.9 470.0,526.7" fill="none" stroke="#ff0000" stroke-width="2" stroke-linejoin="round" shape-rendering="crispEdges"/>
<line x1="627.5" y1="8" x2="627.5" y2="544" stroke="#ff0000" stroke-width="1"/>
<line x1="8" y1="543.5" x2="677" y2="543.5" stroke="#ff0000" stroke-width="1"/>
<line x1="626" y1="360.5" x2="677" y2="360.5" stroke="#ff0000" stroke-width="1"/>
<line x1="626" y1="449.5" x2="677" y2="449.5" stroke="#ff0000" stroke-width="1"/>
<line x1="28.5" y1="543" x2="28.5" y2="549" stroke="#ff0000" stroke-width="1"/>
<text x="28.5" y="559" text-anchor="middle" font-size="11" stroke="#000" stroke-width="0.3">Jul</text>
<line x1="91.5" y1="543" x2="91.5" y2="549" stroke="#ff0000" stroke-width="1"/>
<text x="91.1" y="559" text-anchor="middle" font-size="11" stroke="#000" stroke-width="0.3">Oct</text>
<line x1="154.5" y1="543" x2="154.5" y2="549" stroke="#ff0000" stroke-width="1"/>
<text x="154.2" y="559" text-anchor="middle" font-size="11" stroke="#000" stroke-width="0.3">'18</text>
<line x1="215.5" y1="543" x2="215.5" y2="549" stroke="#ff0000" stroke-width="1"/>
<text x="215.4" y="559" text-anchor="middle" font-size="11" stroke="#000" stroke-width="0.3">Apr</text>
<line x1="279.5" y1="543" x2="279.5" y2="549" stroke="#ff0000" stroke-width="1"/>
<text x="279.2" y="559" text-anchor="middle" font-size="11" stroke="#000" stroke-width="0.3">Jul</text>
<line x1="342.5" y1="543" x2="342.5" y2="549" stroke="#ff0000" stroke-width="1"/>
<text x="342.5" y="559" text-anchor="middle" font-size="11" stroke="#000" stroke-width="0.3">Oct</text>
<line x1="406.5" y1="543" x2="406.5" y2="549" stroke="#ff0000" stroke-width="1"/>
<text x="405.6" y="559" text-anchor="middle" font-size="11" stroke="#000" stroke-width="0.3">'19</text>
<line x1="466.5" y1="543" x2="466.5" y2="549" stroke="#ff0000" stroke-width="1"/>
<text x="466.4" y="559" text-anchor="middle" font-size="11" stroke="#000" stroke-width="0.3">Apr</text>
<line x1="531.5" y1="543" x2="531.5" y2="549" stroke="#ff0000" stroke-width="1"/>
<text x="531.3" y="559" text-anchor="middle" font-size="11" stroke="#000" stroke-width="0.3">Jul</text>
<line x1="597.5" y1="543" x2="597.5" y2="549" stroke="#ff0000" stroke-width="1"/>
<text x="597.2" y="559" text-anchor="middle" font-size="11" stroke="#000" stroke-width="0.3">Oct</text>
<line x1="49.5" y1="543" x2="49.5" y2="546" stroke="#ff0000" stroke-width="1"/>
<line x1="71.5" y1="543" x2="71.5" y2="546" stroke="#ff0000" stroke-width="1"/>
<line x1="114.5" y1="543" x2="114.5" y2="546" stroke="#ff0000" stroke-width="1"/>
<line x1="134.5" y1="543" x2="134.5" y2="546" stroke="#ff0000" stroke-width="1"/>
<line x1="175.5" y1="543" x2="175.5" y2="546" stroke="#ff0000" stroke-width="1"/>
<line x1="194.5" y1="543" x2="194.5" y2="546" stroke="#ff0000" stroke-width="1"/>
<line x1="237.5" y1="543" x2="237.5" y2="546" stroke="#ff0000" stroke-width="1"/>
<line x1="258.5" y1="543" x2="258.5" y2="546" stroke="#ff0000" stroke-width="1"/>
<line x1="301.5" y1="543" x2="301.5" y2="546" stroke="#ff0000" stroke-width="1"/>
<line x1="323.5" y1="543" x2="323.5" y2="546" stroke="#ff0000" stroke-width="1"/>
<line x1="365.5" y1="543" x2="365.5" y2="546" stroke="#ff0000" stroke-width="1"/>
<line x1="386.5" y1="543" x2="386.5" y2="546" stroke="#ff0000" stroke-width="1"/>
<line x1="427.5" y1="543" x2="427.5" y2="546" stroke="#ff0000" stroke-width="1"/>
<line x1="446.5" y1="543" x2="446.5" y2="546" stroke="#ff0000" stroke-width="1"/>
<line x1="488.5" y1="543" x2="488.5" y2="546" stroke="#ff0000" stroke-width="1"/>
<line x1="511.5" y1="543" x2="511.5" y2="546" stroke="#ff0000" stroke-width="1"/>
<line x1="554.5" y1="543" x2="554.5" y2="546" stroke="#ff0000" stroke-width="1"/>
<line x1="577.5" y1="543" x2="577.5" y2="546" stroke="#ff0000" stroke-width="1"/>
<line x1="620.5" y1="543" x2="620.5" y2="546" stroke="#ff0000" stroke-width="1"/>
<line x1="627" y1="44.5" x2="631" y2="44.5" stroke="#ff0000" stroke-width="1"/>
<text x="631.2" y="47.6" font-size="11" stroke="#000" stroke-width="0.3">3,000.00</text>
<line x1="627" y1="80.5" x2="631" y2="80.5" stroke="#ff0000" stroke-width="1"/>
<text x="631.2" y="83.6" font-size="11" stroke="#000" stroke-width="0.3">2,900.00</text>
<line x1="627" y1="116.5" x2="631" y2="116.5" stroke="#ff0000" stroke-width="1"/>
<text x="631.2" y="119.6" font-size="11" stroke="#000" stroke-width="0.3">2,800.00</text>
<line x1="627" y1="152.5" x2="631" y2="152.5" stroke="#ff0000" stroke-width="1"/>
<text x="631.2" y="155.6" font-size="11" stroke="#000" stroke-width="0.3">2,700.00</text>
<line x1="627" y1="188.5" x2="631" y2="188.5" stroke="#ff0000" stroke-width="1"/>
<text x="631.2" y="191.6" font-size="11" stroke="#000" stroke-width="0.3">2,600.00</text>
<line x1="627" y1="224.5" x2="631" y2="224.5" stroke="#ff0000" stroke-width="1"/>
<text x="631.2" y="227.6" font-size="11" stroke="#000" stroke-width="0.3">2,500.00</text>
<line x1="627" y1="260.5" x2="631" y2="260.5" stroke="#ff0000" stroke-width="1"/>
<text x="631.2" y="263.6" font-size="11" stroke="#000" stroke-width="0.3">2,400.00</text>
<line x1="627" y1="296.5" x2="631" y2="296.5" stroke="#ff0000" stroke-width="1"/>
<text x="631.2" y="299.6" font-size="11" stroke="#000" stroke-width="0.3">2,300.00</text>
<line x1="627" y1="332.5" x2="631" y2="332.5" stroke="#ff0000" stroke-width="1"/>
<text x="631.2" y="335.6" font-size="11" stroke="#000" stroke-width="0.3">2,200.00</text>
<rect x="628" y="73" width="49" height="14" fill="#008080"/>
<text x="633" y="84" font-size="11" fill="#fff">2,893.72</text>
<rect x="628" y="78" width="49" height="14" fill="#000000"/>
<text x="633" y="89" font-size="11" fill="#fff">2,892.74</text>
<rect x="628" y="104" width="49" height="14" fill="#ff0000"/>
<text x="633" y="115" font-size="11" fill="#fff">2,819.20</text>
<rect x="628" y="136" width="49" height="14" fill="#0000ff"/>
<text x="633" y="147" font-size="11" fill="#fff">2,729.35</text>
<rect x="628" y="126" width="49" height="14" fill="#ff00ff"/>
<text x="633" y="137" font-size="11" fill="#fff">2,758.85</text>
<rect x="628" y="213" width="49" height="14" fill="#ff0000"/>
<text x="633" y="224" font-size="11" fill="#fff">2,516.38</text>
<rect x="628" y="259" width="49" height="14" fill="#008080"/>
<text x="633" y="270" font-size="11" fill="#fff">2,386.72</text>
<line x1="627" y1="367.5" x2="631" y2="367.5" stroke="#ff0000" stroke-width="1"/>
<line x1="627" y1="387.5" x2="631" y2="387.5" stroke="#ff0000" stroke-width="1"/>
<line x1="627" y1="428.5" x2="631" y2="428.5" stroke="#ff0000" stroke-width="1"/>
<line x1="627" y1="439.5" x2="631" y2="439.5" stroke="#ff0000" stroke-width="1"/>
<text x="632" y="371.3" font-size="11" stroke="#000" stroke-width="0.3">300.00</text>
<text x="632" y="432.3" font-size="11" stroke="#000" stroke-width="0.3">-300.00</text>
<rect x="628" y="410" width="49" height="14" fill="#c0dcc0"/>
<text x="633" y="421" font-size="11" fill="#fff">-150.00</text>
<rect x="628" y="372" width="49" height="14" fill="#000080"/>
<text x="633" y="383" font-size="11" fill="#fff">198.09</text>
<rect x="628" y="406" width="49" height="14" fill="#0000ff"/>
<text x="633" y="417" font-size="11" fill="#fff">-128.80</text>
<line x1="627" y1="486.5" x2="631" y2="486.5" stroke="#ff0000" stroke-width="1"/>
<line x1="627" y1="499.5" x2="631" y2="499.5" stroke="#ff0000" stroke-width="1"/>
<line x1="627" y1="511.5" x2="631" y2="511.5" stroke="#ff0000" stroke-width="1"/>
<text x="632" y="503.2" font-size="11" stroke="#000" stroke-width="0.3">30.00</text>
<text x="632" y="528" font-size="11" stroke="#000" stroke-width="0.3">10.00</text>
<rect x="628" y="457" width="49" height="14" fill="#c0c0c0"/>
<text x="633" y="468" font-size="11" fill="#fff">60.00</text>
<rect x="628" y="469" width="49" height="14" fill="#ff0000"/>
<text x="633" y="480" font-size="11" fill="#fff">50.00</text>
<rect x="628" y="524" width="49" height="14" fill="#c0c0c0"/>
<text x="633" y="535" font-size="11" fill="#fff">5.00</text>
<rect x="628" y="522" width="49" height="14" fill="#ff0000"/>
<text x="633" y="533" font-size="11" fill="#fff">6.47</text>
<text x="30" y="44.5" font-size="24" font-weight="bold">SPX CASH, Daily</text>
<text x="514" y="49.4" font-size="12" font-weight="bold" stroke="#000" stroke-width="0.2">180-day target</text>
<text x="478.5" y="193.9" font-size="12" fill="#ff0000" stroke="#ff0000" stroke-width="0.3">180-day channel</text>
<text x="398" y="299.8" font-size="13.4" font-weight="bold" fill="#ff00ff" stroke="#ff00ff" stroke-width="0.2">200-day moving average</text>
<text x="386" y="322.8" font-size="13.4" font-weight="bold" fill="#0000ff" stroke="#0000ff" stroke-width="0.2">360-day moving average</text>
<text x="125" y="320.7" font-size="12" fill="#008080" stroke="#008080" stroke-width="0.3">360-day/four-year channel</text>
<text x="446" y="376.6" font-size="12" font-weight="bold" stroke="#000" stroke-width="0.2">180-day detrend</text>
<rect x="262" y="454" width="100" height="12" fill="#fafdf9"/>
<text x="264" y="464.5" font-size="12" font-weight="bold" stroke="#000" stroke-width="0.2">180-day oversold</text>
</svg>
</body></html>
